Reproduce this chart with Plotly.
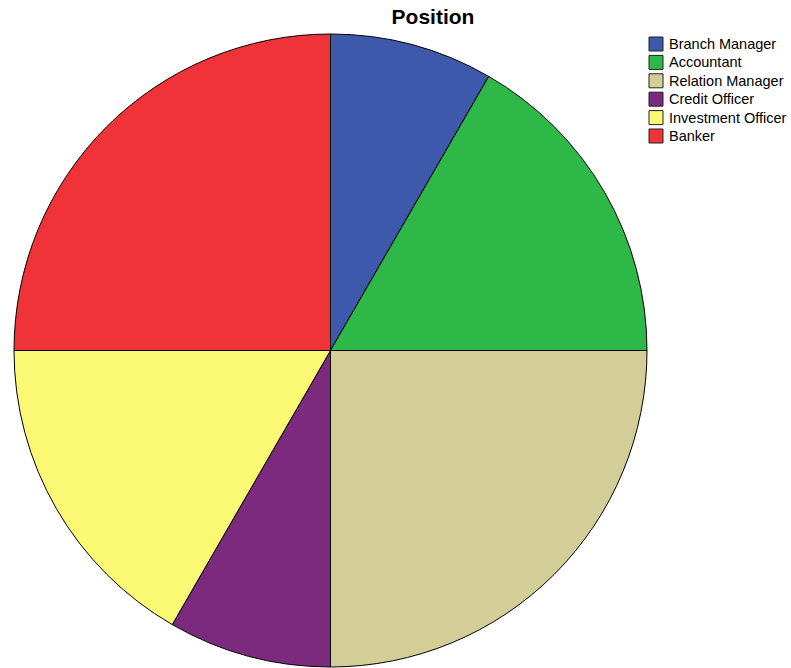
import plotly.graph_objects as go

W, H = 791, 668

positions = ["Branch Manager", "Accountant", "Relation Manager",
             "Credit Officer", "Investment Officer", "Banker"]
counts = [1, 2, 3, 1, 2, 3]
colors = ["#3e58ac", "#2eb848", "#d3ce97", "#7b2a7d", "#fbf873", "#ef3338"]

fig = go.Figure(go.Pie(
    labels=positions,
    values=counts,
    sort=False,
    direction="clockwise",
    rotation=0,
    textinfo="none",
    hoverinfo="label+value+percent",
    showlegend=False,
    marker=dict(colors=colors, line=dict(color="#000000", width=1)),
    domain=dict(x=[14 / W, 647 / W], y=[1 - 667 / H, 1 - 34 / H]),
))

# Compact key: coloured swatches with their labels, top-right
sw_x0, sw_size, row0, row_step, text_x = 649, 14, 44, 18.4, 667
shapes, notes = [], []
for i, (name, col) in enumerate(zip(positions, colors)):
    cy = row0 + i * row_step
    shapes.append(dict(
        type="rect", xref="paper", yref="paper",
        x0=sw_x0 / W, x1=(sw_x0 + sw_size) / W,
        y0=1 - (cy + sw_size / 2) / H, y1=1 - (cy - sw_size / 2) / H,
        fillcolor=col, line=dict(color="#222222", width=1),
    ))
    notes.append(dict(
        text=name, xref="paper", yref="paper",
        x=text_x / W, y=1 - cy / H, xanchor="left", yanchor="middle",
        showarrow=False,
        font=dict(family="Arial, Liberation Sans", size=14.5, color="#000"),
    ))

fig.update_layout(
    width=W, height=H,
    margin=dict(l=0, r=0, t=0, b=0),
    paper_bgcolor="white",
    plot_bgcolor="white",
    title=dict(text="<b>Position</b>", x=433 / W, xanchor="center",
               y=1 - 17 / H, yanchor="middle",
               font=dict(family="Arial, Liberation Sans", size=21, color="#000")),
    shapes=shapes,
    annotations=notes,
)

fig.write_html("out.html")
